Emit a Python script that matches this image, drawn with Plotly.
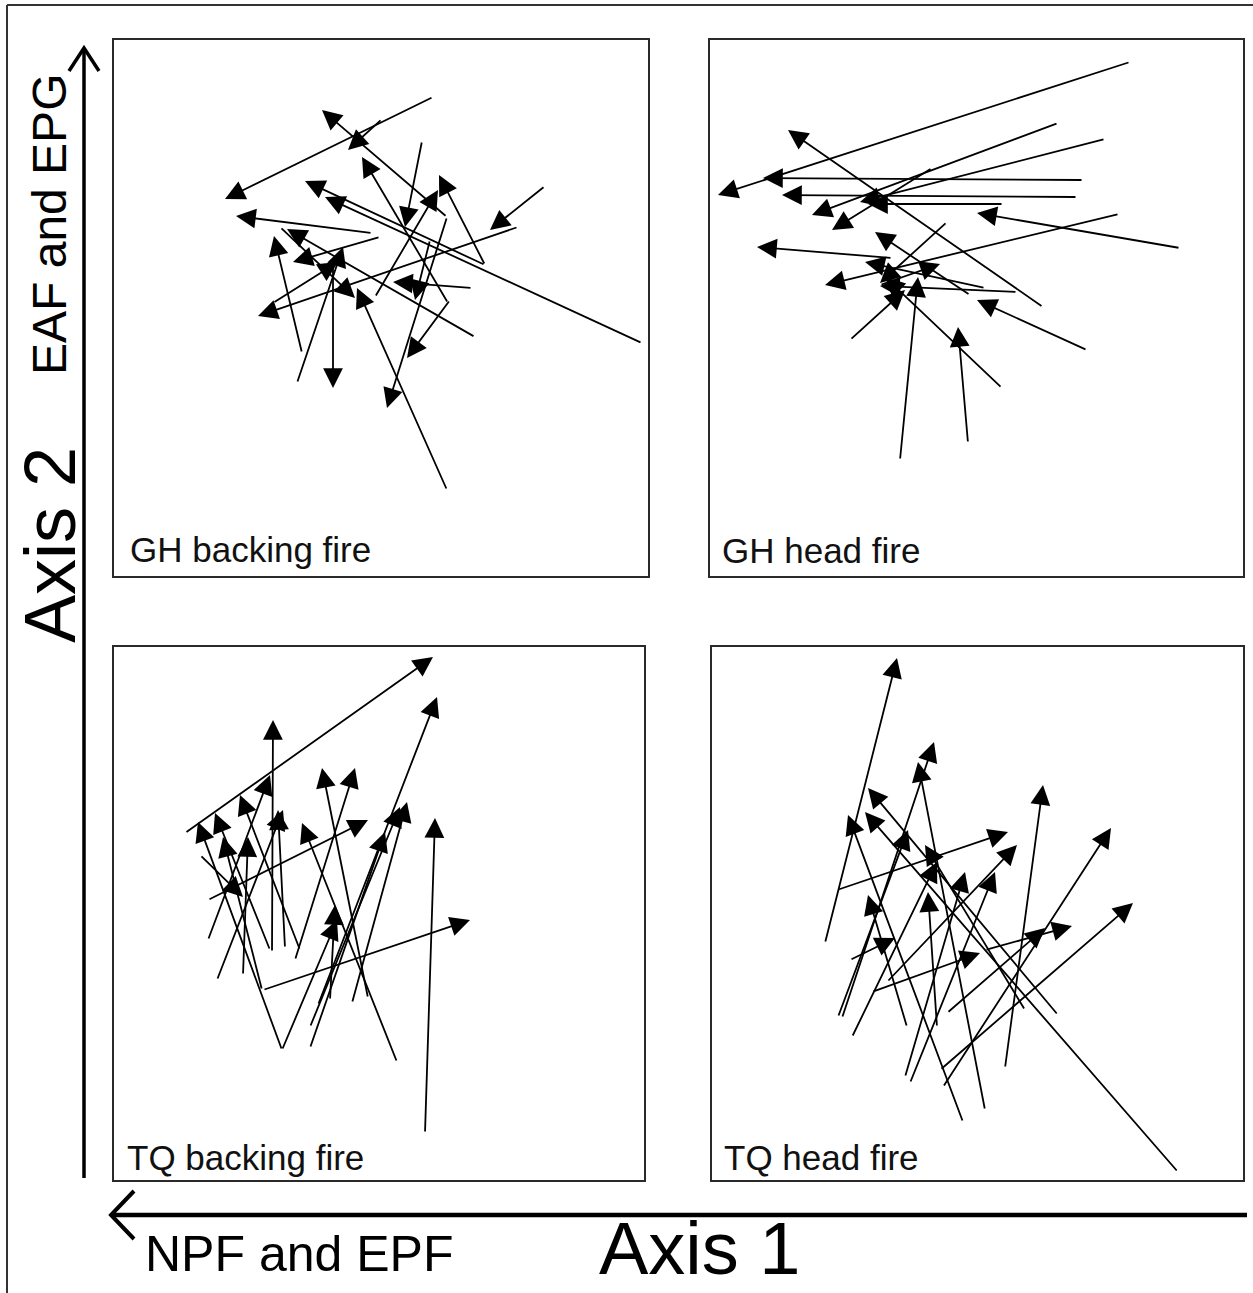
import plotly.graph_objects as go

W, H = 1253, 1293
FONT = "Liberation Sans, Arial, sans-serif"

# ---------------- data: arrow tails (x0, y0) and heads (x1, y1), panel-local units ----------------
gh_back_x0 = [317, 331, 266, 369, 526, 369, 306, 429, 256, 186, 359, 264, 402, 217, 181, 331, 259, 356, 331, 332, 334, 157, 314, 164]
gh_back_y0 = [479, 359, 457, 311, 233, 311, 435, 390, 343, 223, 239, 339, 349, 314, 193, 359, 279, 288, 86, 273, 276, 273, 336, 349]
gh_back_x1 = [109, 206, 232, 189, 209, 323, 289, 374, 120, 158, 171, 177, 142, 217, 227, 271, 322, 277, 241, 246, 291, 222, 299, 239]
gh_back_y1 = [377, 466, 426, 395, 379, 401, 349, 346, 360, 340, 347, 314, 260, 188, 329, 168, 386, 294, 288, 419, 218, 314, 276, 278]

gh_head_x0 = [420, 333, 373, 367, 293, 348, 395, 222, 409, 470, 182, 260, 275, 140, 237, 170, 190, 258, 292, 377, 307]
gh_head_y0 = [514, 269, 396, 379, 372, 453, 437, 408, 362, 328, 318, 281, 288, 236, 354, 291, 116, 133, 188, 226, 284]
gh_head_x1 = [8, 78, 53, 72, 158, 102, 150, 122, 115, 267, 47, 165, 155, 195, 170, 230, 208, 248, 175, 267, 170]
gh_head_y1 = [381, 446, 398, 381, 372, 361, 374, 346, 291, 363, 329, 344, 314, 286, 293, 312, 299, 249, 299, 276, 290]

tq_back_x0 = [69, 202, 156, 92, 184, 154, 166, 146, 127, 169, 101, 281, 252, 179, 92, 194, 194, 236, 309, 147, 166, 84, 214]
tq_back_y0 = [347, 175, 228, 240, 230, 230, 130, 190, 205, 232, 200, 118, 182, 220, 280, 132, 153, 177, 47, 190, 130, 325, 180]
tq_back_x1 = [317, 321, 157, 154, 124, 99, 82, 107, 132, 162, 167, 186, 206, 239, 252, 269, 284, 291, 319, 354, 221, 127, 219]
tq_back_y1 = [523, 483, 460, 405, 385, 367, 358, 343, 343, 370, 370, 357, 412, 412, 360, 348, 373, 378, 362, 260, 260, 283, 275]

tq_head_x0 = [113, 130, 273, 346, 251, 466, 293, 231, 125, 228, 126, 313, 140, 193, 198, 175, 160, 235, 273, 195, 225, 138]
tq_head_y0 = [237, 162, 70, 165, 58, 8, 112, 93, 290, 110, 163, 170, 143, 103, 97, 198, 188, 167, 230, 153, 153, 220]
tq_head_x1 = [185, 222, 206, 156, 136, 153, 331, 399, 296, 421, 196, 213, 225, 253, 283, 305, 268, 333, 360, 156, 216, 183]
tq_head_y1 = [522, 438, 418, 392, 365, 368, 395, 352, 348, 277, 350, 335, 318, 308, 308, 335, 227, 252, 254, 285, 288, 242]

panel_labels = ["GH backing fire", "GH head fire", "TQ backing fire", "TQ head fire"]
axis1_label, axis1_sub = "Axis 1", "NPF and EPF"
axis2_label, axis2_sub = "Axis 2", "EAF and EPG"

panels = [
    (gh_back_x0, gh_back_y0, gh_back_x1, gh_back_y1),
    (gh_head_x0, gh_head_y0, gh_head_x1, gh_head_y1),
    (tq_back_x0, tq_back_y0, tq_back_x1, tq_back_y1),
    (tq_head_x0, tq_head_y0, tq_head_x1, tq_head_y1),
]

# ---------------- layout geometry (pixels of the page) ----------------
frames = [(114, 40, 648, 576), (710, 40, 1243, 576), (114, 647, 644, 1180), (712, 647, 1243, 1180)]
x_ranges = [[-2, 532], [0, 533], [-2, 528], [0, 531]]
y_ranges = [[0, 536], [0, 536], [0, 533], [0, 533]]
label_pos = [(0.026, 0.05), (0.019, 0.047), (0.021, 0.043), (0.019, 0.043)]


def px(x):
    return x / W


def py(y):
    return 1 - y / H


fig = go.Figure()
layout = dict(
    width=W, height=H, autosize=False,
    margin=dict(l=0, r=0, t=0, b=0),
    paper_bgcolor="white", plot_bgcolor="white",
    showlegend=False,
)

annotations = []
for i, (x0s, y0s, x1s, y1s) in enumerate(panels):
    sid = "" if i == 0 else str(i + 1)
    xa, ya = "x" + sid, "y" + sid
    fig.add_trace(go.Scatter(x=x0s + x1s, y=y0s + y1s, mode="markers",
                             marker=dict(opacity=0, size=1), hoverinfo="skip",
                             xaxis=xa, yaxis=ya, showlegend=False))
    fl, ft, fr, fb = frames[i]
    common = dict(showgrid=False, zeroline=False, showticklabels=False, ticks="",
                  showline=True, mirror=True, linecolor="#2a2a2a", linewidth=1.6,
                  fixedrange=True)
    layout["xaxis" + sid] = dict(domain=[px(fl), px(fr)], range=x_ranges[i], anchor=ya, **common)
    layout["yaxis" + sid] = dict(domain=[py(fb), py(ft)], range=y_ranges[i], anchor=xa, **common)
    for x0, y0, x1, y1 in zip(x0s, y0s, x1s, y1s):
        annotations.append(dict(
            x=x1, y=y1, ax=x0, ay=y0, xref=xa, yref=ya, axref=xa, ayref=ya,
            text="", showarrow=True, arrowhead=2, arrowsize=2.2, arrowwidth=1.8,
            arrowcolor="black", standoff=0, startstandoff=0))
    lx, ly = label_pos[i]
    annotations.append(dict(
        x=lx, y=ly, xref=xa + " domain", yref=ya + " domain",
        text=panel_labels[i], showarrow=False, xanchor="left", yanchor="middle",
        font=dict(family=FONT, size=35, color="#111")))

# axis titles
annotations += [
    dict(x=px(50), y=py(545), xref="paper", yref="paper", text=axis2_label, showarrow=False,
         textangle=-90, xanchor="center", yanchor="middle",
         font=dict(family=FONT, size=72, color="black")),
    dict(x=px(50), y=py(225), xref="paper", yref="paper", text=axis2_sub, showarrow=False,
         textangle=-90, xanchor="center", yanchor="middle",
         font=dict(family=FONT, size=48, color="black")),
    dict(x=px(700), y=py(1248), xref="paper", yref="paper", text=axis1_label, showarrow=False,
         xanchor="center", yanchor="middle",
         font=dict(family=FONT, size=74, color="black")),
    dict(x=px(299), y=py(1254), xref="paper", yref="paper", text=axis1_sub, showarrow=False,
         xanchor="center", yanchor="middle",
         font=dict(family=FONT, size=50, color="black")),
]
layout["annotations"] = annotations

shapes = [
    # outer frame (top and left)
    dict(type="line", xref="paper", yref="paper", x0=px(7), y0=py(5), x1=px(1253), y1=py(5),
         line=dict(color="#333", width=2)),
    dict(type="line", xref="paper", yref="paper", x0=px(7), y0=py(5), x1=px(7), y1=py(1293),
         line=dict(color="#333", width=2)),
    # vertical axis arrow
    dict(type="line", xref="paper", yref="paper", x0=px(84), y0=py(1178), x1=px(84), y1=py(49),
         line=dict(color="black", width=3.5)),
    dict(type="path", xref="paper", yref="paper",
         path=f"M {px(69)},{py(71)} L {px(84)},{py(48)} L {px(99)},{py(71)}",
         line=dict(color="black", width=3.5)),
    # horizontal axis arrow
    dict(type="line", xref="paper", yref="paper", x0=px(1247), y0=py(1215), x1=px(112), y1=py(1215),
         line=dict(color="black", width=4.5)),
    dict(type="path", xref="paper", yref="paper",
         path=f"M {px(134)},{py(1191)} L {px(111)},{py(1215)} L {px(134)},{py(1239)}",
         line=dict(color="black", width=4)),
]
layout["shapes"] = shapes

fig.update_layout(**layout)
fig.write_html("out.html", config={"displayModeBar": False},
               post_script="document.body.style.margin='0';")
